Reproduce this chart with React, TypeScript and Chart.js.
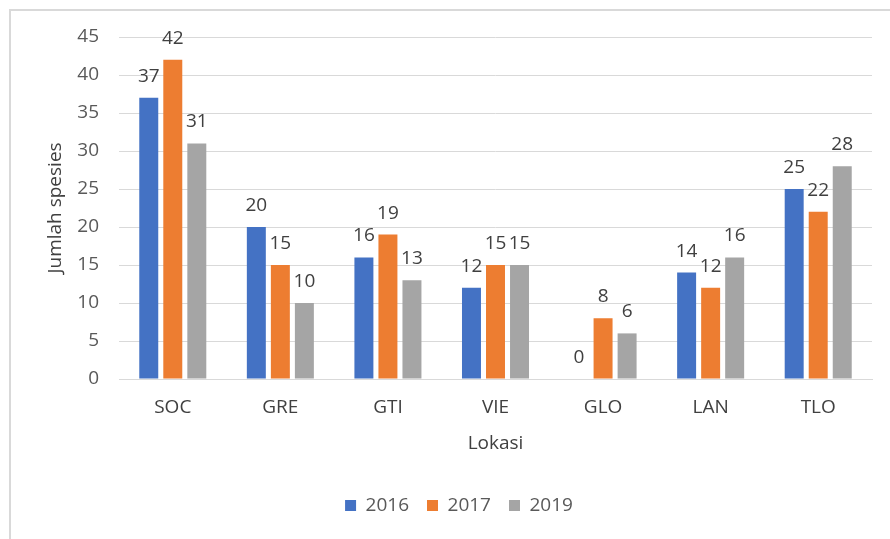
import React, { useEffect, useRef } from "react";
import { Chart, registerables } from "chart.js";

Chart.register(...registerables);

const categories = ["SOC", "GRE", "GTI", "VIE", "GLO", "LAN", "TLO"];
const seriesNames = ["2016", "2017", "2019"];
const values2016 = [37, 20, 16, 12, 0, 14, 25];
const values2017 = [42, 15, 19, 15, 8, 12, 22];
const values2019 = [31, 10, 13, 15, 6, 16, 28];
const seriesColors = ["#4472C4", "#ED7D31", "#A5A5A5"];
const yMin = 0;
const yMax = 45;
const yStep = 5;
const yTitle = "Jumlah spesies";
const xTitle = "Lokasi";

const FONT = "'Open Sans', sans-serif";
const FS = 19;

const valueLabels = {
  id: "valueLabels",
  afterDatasetsDraw(chart: any) {
    const ctx = chart.ctx;
    ctx.save();
    ctx.font = `${FS}px ${FONT}`;
    ctx.fillStyle = "#404040";
    ctx.textAlign = "center";
    ctx.textBaseline = "alphabetic";
    chart.data.datasets.forEach((ds: any, i: number) => {
      const meta = chart.getDatasetMeta(i);
      meta.data.forEach((el: any, j: number) => {
        ctx.fillText(String(ds.data[j]), el.x, el.y - 16);
      });
    });
    ctx.restore();
  },
};

const shiftLegend = {
  id: "shiftLegend",
  afterLayout(chart: any) {
    const l = chart.legend;
    if (l) {
      l.left += 23;
      l.right += 23;
    }
  },
};

export default function App() {
  const ref = useRef<HTMLCanvasElement | null>(null);

  useEffect(() => {
    if (!ref.current) return;
    const seriesValues = [values2016, values2017, values2019];
    const chart = new Chart(ref.current, {
      type: "bar",
      data: {
        labels: categories,
        datasets: seriesNames.map((name, i) => ({
          label: name,
          data: seriesValues[i],
          backgroundColor: seriesColors[i],
          borderWidth: 0,
          categoryPercentage: 0.67,
          barPercentage: 0.79,
        })),
      },
      options: {
        animation: false,
        responsive: false,
        layout: { padding: { left: 0, right: 18, top: 37, bottom: 14 } },
        plugins: {
          tooltip: { enabled: false },
          legend: {
            position: "bottom",
            labels: {
              boxWidth: 11,
              boxHeight: 11,
              padding: 18,
              color: "#595959",
              font: { family: FONT, size: FS },
            },
          },
        },
        scales: {
          x: {
            grid: { display: false, drawTicks: false },
            border: { display: true, color: "#d9d9d9", width: 1 },
            ticks: {
              color: "#404040",
              padding: 17,
              font: { family: FONT, size: FS },
            },
            title: {
              display: true,
              text: xTitle,
              color: "#404040",
              font: { family: FONT, size: FS },
              padding: { top: 0, bottom: 22.6 },
            },
            afterFit(scale: any) {
              scale.height = 99;
            },
          },
          y: {
            min: yMin,
            max: yMax,
            grid: { color: "#d9d9d9", lineWidth: 1, drawTicks: false },
            border: { display: false },
            ticks: {
              stepSize: yStep,
              color: "#595959",
              padding: 20,
              font: { family: FONT, size: FS },
            },
            title: {
              display: true,
              text: yTitle,
              color: "#404040",
              font: { family: FONT, size: FS },
              padding: { top: 44, bottom: 0 },
            },
            afterFit(scale: any) {
              scale.width = 119;
            },
          },
        },
      },
      plugins: [valueLabels, shiftLegend],
    });
    return () => chart.destroy();
  }, []);

  return (
    <div
      style={{
        position: "absolute",
        left: 0,
        top: 0,
        width: 890,
        height: 539,
        overflow: "hidden",
        background: "#ffffff",
      }}
    >
      <canvas ref={ref} width={890} height={539} style={{ display: "block" }} />
      <div
        style={{
          position: "absolute",
          left: 9,
          top: 9,
          width: 900,
          height: 560,
          borderLeft: "2px solid #d9d9d9",
          borderTop: "2px solid #d9d9d9",
          pointerEvents: "none",
        }}
      />
    </div>
  );
}
